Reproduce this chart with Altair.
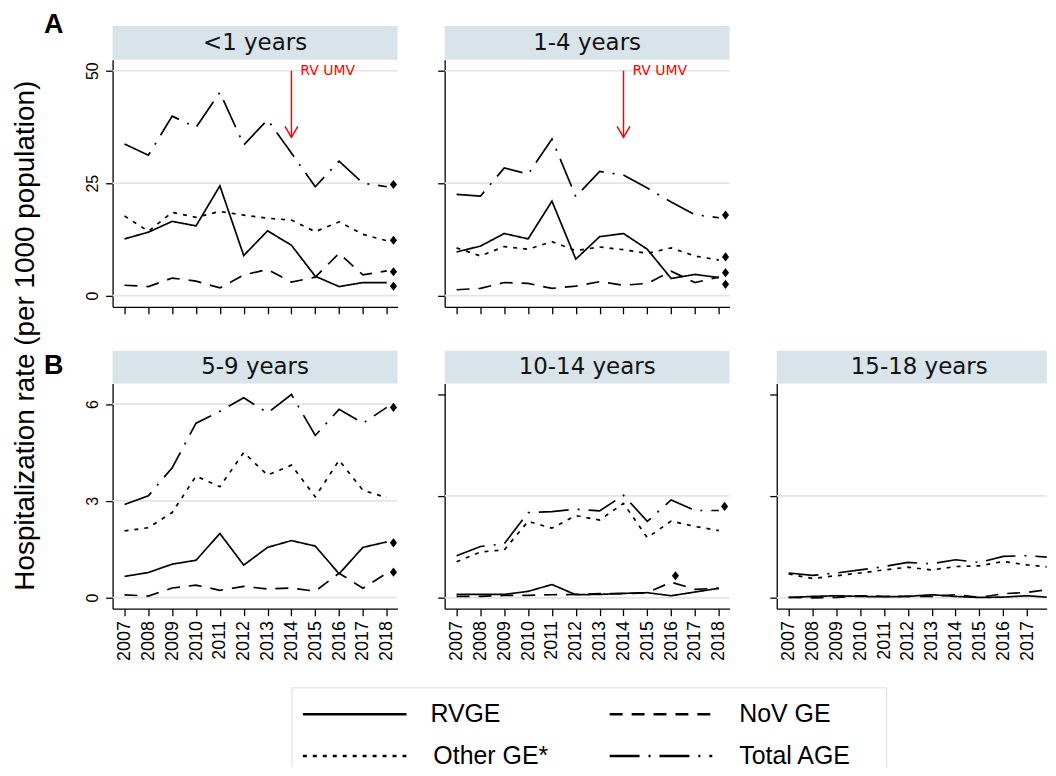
import altair as alt
import pandas as pd

# ---------------- data ----------------
years = [2007, 2008, 2009, 2010, 2011, 2012, 2013, 2014, 2015, 2016, 2017, 2018]
series_names = ["RVGE", "NoV GE", "Other GE*", "Total AGE"]
age_groups = ["<1 years", "1-4 years", "5-9 years", "10-14 years", "15-18 years"]

rvge_lt1 = [12.6, 14.1, 16.5, 15.5, 24.4, 8.9, 14.4, 11.2, 4.3, 2.0, 2.9, 2.9]
nov_lt1 = [2.3, 2.0, 3.9, 3.2, 1.7, 4.6, 5.8, 3.0, 4.1, 9.4, 4.6, 5.5]
other_lt1 = [17.7, 14.3, 18.5, 17.4, 18.7, 17.9, 17.2, 16.8, 14.2, 16.4, 13.6, 12.2]
total_lt1 = [33.7, 31.2, 39.9, 37.4, 45.2, 33.5, 39.1, 31.7, 24.2, 29.9, 25.0, 24.2]

rvge_1to4 = [9.7, 11.0, 13.8, 12.6, 21.0, 8.1, 13.1, 13.8, 10.3, 3.8, 4.7, 4.0]
nov_1to4 = [1.3, 1.6, 2.9, 2.7, 1.6, 2.1, 3.1, 2.3, 2.7, 5.4, 2.9, 4.1]
other_1to4 = [10.6, 8.8, 10.9, 10.3, 12.0, 10.0, 10.8, 10.2, 9.4, 10.6, 8.8, 7.9]
total_1to4 = [22.5, 22.1, 28.4, 27.0, 34.8, 22.0, 27.6, 26.8, 23.9, 20.8, 18.0, 17.3]

rvge_5to9 = [0.66, 0.78, 1.04, 1.16, 1.99, 1.01, 1.56, 1.77, 1.60, 0.74, 1.56, 1.73]
nov_5to9 = [0.09, 0.05, 0.30, 0.39, 0.23, 0.35, 0.27, 0.30, 0.20, 0.76, 0.29, 0.76]
other_5to9 = [2.07, 2.17, 2.64, 3.77, 3.44, 4.50, 3.80, 4.11, 3.13, 4.26, 3.33, 3.10]
total_5to9 = [2.89, 3.16, 4.03, 5.41, 5.78, 6.20, 5.73, 6.30, 5.03, 5.84, 5.41, 5.90]

rvge_10to14 = [0.10, 0.10, 0.10, 0.19, 0.39, 0.09, 0.10, 0.13, 0.15, 0.06, 0.17, 0.28]
nov_10to14 = [0.04, 0.04, 0.07, 0.07, 0.09, 0.10, 0.12, 0.12, 0.15, 0.46, 0.25, 0.28]
other_10to14 = [1.06, 1.35, 1.41, 2.25, 2.05, 2.42, 2.29, 2.78, 1.77, 2.26, 2.10, 1.98]
total_10to14 = [1.24, 1.51, 1.59, 2.51, 2.54, 2.61, 2.56, 3.02, 2.25, 2.88, 2.57, 2.57]

rvge_15to18 = [0.01, 0.04, 0.06, 0.04, 0.03, 0.04, 0.09, 0.04, 0.01, 0.02, 0.06, 0.01]
nov_15to18 = [0.01, 0.00, 0.01, 0.06, 0.04, 0.04, 0.04, 0.09, 0.01, 0.12, 0.16, 0.25]
other_15to18 = [0.70, 0.57, 0.65, 0.73, 0.82, 0.90, 0.82, 0.92, 0.94, 1.07, 0.97, 0.90]
total_15to18 = [0.73, 0.66, 0.73, 0.82, 0.92, 1.04, 1.00, 1.12, 1.04, 1.22, 1.24, 1.19]

# significance markers (diamonds)
marker_lt1_year = [2018.28, 2018.28, 2018.28, 2018.28]
marker_lt1_rate = [24.7, 12.3, 5.3, 2.1]
marker_1to4_year = [2018.28, 2018.28, 2018.28, 2018.28]
marker_1to4_rate = [17.9, 8.6, 5.1, 2.5]
marker_5to9_year = [2018.28, 2018.28, 2018.28]
marker_5to9_rate = [5.9, 1.7, 0.79]
marker_10to14_year = [2018.24, 2016.18]
marker_10to14_rate = [2.69, 0.65]
marker_15to18_year = [2018.28, 2018.28]
marker_15to18_rate = [1.25, 0.40]

# vaccination annotation
arrow_year = 2014
arrow_top = 50
arrow_tip = 35.2
arrow_label = "RV UMV"

ticks_a = [0, 25, 50]
ticks_b = [0, 3, 6]
grid_a = [0, 25, 50]
grid_b1 = [0, 3, 6]
grid_b2 = [0, 3]
years_cut = [2007, 2008, 2009, 2010, 2011, 2012, 2013, 2014, 2015, 2016, 2017]

# ---------------- styling ----------------
FONT = "Liberation Sans"
HFONT = "DejaVu Sans"
W = 286
W_LAST = 271          # last panel is cut by the page edge, as in the original
HA = 248
HB = 226
X_DOMAIN = [2006.5, 2018.45]
X_DOMAIN_LAST = [2006.5, 2006.5 + (2018.45 - 2006.5) * W_LAST / W]
DASHES = [[1, 0], [13, 9], [4, 6], [30, 9, 2, 9]]
DIAMOND = "M0,-1.1L0.85,0L0,1.1L-0.85,0Z"
ARROWHEAD = "M-1,-1.7L0,0L1,-1.7"


def make_panel(label, values, m_years, m_rates, y_domain, y_ticks, grid_vals,
               height, header_h, show_ylabels, show_xlabels,
               letter=None, letter_y=0, arrow=False, width=W, x_domain=X_DOMAIN,
               x_values=years):
    df = pd.DataFrame({
        "year": years * 4,
        "series": [s for s in series_names for _ in years],
        "rate": [v for arr in values for v in arr],
    })
    x_axis = alt.Axis(values=x_values, format="d", labels=show_xlabels, labelAngle=270,
                      labelFontSize=18, labelFont=FONT, labelColor="black",
                      labelPadding=5, labelFlush=False, labelOverlap=False,
                      tickSize=7, tickColor="black", tickWidth=1.3,
                      domainColor="black", domainWidth=1.3, grid=False, title=None)
    y_axis = alt.Axis(values=y_ticks, labels=show_ylabels, labelAngle=270,
                      labelAlign="center", labelBaseline="bottom",
                      labelFontSize=16, labelFont=FONT, labelColor="black",
                      labelPadding=5.5, labelFlush=False, labelOverlap=False,
                      tickSize=7, tickColor="black", tickWidth=1.3,
                      domainColor="black", domainWidth=1.3, grid=False, title=None)
    xs = alt.Scale(domain=x_domain, nice=False, zero=False)
    ys = alt.Scale(domain=y_domain, nice=False, zero=False)
    X = alt.X("year:Q", scale=xs, axis=x_axis)
    Y = alt.Y("rate:Q", scale=ys, axis=y_axis)

    grid = alt.Chart(pd.DataFrame({"rate": grid_vals})).mark_rule(
        color="#e4e4e4", strokeWidth=1.7).encode(y=Y)

    lines = alt.Chart(df).mark_line(strokeWidth=1.7, color="black", strokeCap="butt",
                                    clip=True).encode(
        x=X, y=Y,
        strokeDash=alt.StrokeDash("series:N",
                                  scale=alt.Scale(domain=series_names, range=DASHES),
                                  legend=None),
    )
    markers = alt.Chart(pd.DataFrame({"year": m_years, "rate": m_rates})).mark_point(
        shape=DIAMOND, filled=True, color="black", size=70, opacity=1, clip=True).encode(x=X, y=Y)

    hdf = pd.DataFrame({"label": [label]})
    header_rect = alt.Chart(hdf).mark_rect(color="#d8e4ea").encode(
        x=alt.value(0), x2=alt.value(width), y=alt.value(-header_h), y2=alt.value(0))
    header_text = alt.Chart(hdf).mark_text(
        font=HFONT, fontSize=23, color="#111111", align="center", baseline="middle").encode(
        x=alt.value(W / 2), y=alt.value(-header_h / 2), text="label:N")

    layers = [grid, lines, markers, header_rect, header_text]

    if arrow:
        adf = pd.DataFrame({"year": [arrow_year], "rate": [arrow_top],
                            "rate_end": [arrow_tip], "label": [arrow_label]})
        shaft = alt.Chart(adf).mark_rule(color="red", strokeWidth=1.5).encode(
            x=X, y=Y, y2="rate_end:Q")
        head = alt.Chart(adf).mark_point(shape=ARROWHEAD, filled=False, color="red",
                                         strokeWidth=1.5, size=169, opacity=1).encode(
            x=X, y=alt.Y("rate_end:Q", scale=ys, axis=y_axis))
        txt = alt.Chart(adf).mark_text(color="red", font=HFONT, fontSize=14, align="left",
                                       baseline="middle", dx=9).encode(x=X, y=Y, text="label:N")
        layers += [shaft, head, txt]

    if letter:
        ldf = pd.DataFrame({"t": [letter]})
        layers.append(alt.Chart(ldf).mark_text(
            font=FONT, fontSize=27, fontWeight="bold", color="black",
            align="center", baseline="middle").encode(
            x=alt.value(-59), y=alt.value(letter_y), text="t:N"))

    return alt.layer(*layers).properties(width=width, height=height)


p_lt1 = make_panel(age_groups[0], [rvge_lt1, nov_lt1, other_lt1, total_lt1],
                   marker_lt1_year, marker_lt1_rate, [-2.5, 52.44], ticks_a, grid_a,
                   HA, 34, True, False, letter="A", letter_y=-35, arrow=True)
p_1to4 = make_panel(age_groups[1], [rvge_1to4, nov_1to4, other_1to4, total_1to4],
                    marker_1to4_year, marker_1to4_rate, [-2.5, 52.44], ticks_a, grid_a,
                    HA, 34, False, False, arrow=True)
p_5to9 = make_panel(age_groups[2], [rvge_5to9, nov_5to9, other_5to9, total_5to9],
                    marker_5to9_year, marker_5to9_rate, [-0.34, 6.64], ticks_b, grid_b1,
                    HB, 33, True, True, letter="B", letter_y=-18)
p_10to14 = make_panel(age_groups[3], [rvge_10to14, nov_10to14, other_10to14, total_10to14],
                      marker_10to14_year, marker_10to14_rate, [-0.32, 6.31], ticks_b, grid_b2,
                      HB, 33, False, True)
p_15to18 = make_panel(age_groups[4], [rvge_15to18, nov_15to18, other_15to18, total_15to18],
                      marker_15to18_year, marker_15to18_rate, [-0.32, 6.31], ticks_b, grid_b2,
                      HB, 33, False, True, width=W_LAST, x_domain=X_DOMAIN_LAST,
                      x_values=years_cut)

row_a = alt.hconcat(p_lt1, p_1to4, spacing=38.35)
row_b = alt.hconcat(p_5to9, p_10to14, p_15to18, spacing=38.35)

panels = alt.vconcat(row_a, row_b, spacing=36).properties(
    title=alt.TitleParams(text="Hospitalization rate (per 1000 population)",
                          orient="left", anchor="middle", font=FONT, fontSize=28,
                          fontWeight="normal", color="black", offset=4))

# ---------------- legend (box open at the bottom, cut by the page edge) ----------------
LEG_H = 80
BOX_L, BOX_R = 180, 777
legend_pos = [(191, 295, 27, 319), (499, 602, 27, 629), (191, 295, 69, 322), (499, 602, 69, 629)]
kdf = pd.DataFrame({"k": [0]})
leg_layers = [
    alt.Chart(kdf).mark_rule(color="#dcdcdc", strokeWidth=1).encode(
        x=alt.value(BOX_L), x2=alt.value(BOX_R), y=alt.value(0.5)),
    alt.Chart(kdf).mark_rule(color="#dcdcdc", strokeWidth=1).encode(
        x=alt.value(BOX_L), y=alt.value(0.5), y2=alt.value(LEG_H)),
    alt.Chart(kdf).mark_rule(color="#dcdcdc", strokeWidth=1).encode(
        x=alt.value(BOX_R), y=alt.value(0.5), y2=alt.value(LEG_H)),
]
for name, dash, (x1, x2, yy, tx) in zip(series_names, DASHES, legend_pos):
    sdf = pd.DataFrame({"series": [name]})
    leg_layers.append(alt.Chart(sdf).mark_rule(color="black", strokeWidth=2.5, strokeCap="butt").encode(
        x=alt.value(x1), x2=alt.value(x2), y=alt.value(yy), strokeDash=alt.value(dash)))
    leg_layers.append(alt.Chart(sdf).mark_text(
        font=FONT, fontSize=25, color="black", align="left", baseline="middle", clip=True).encode(
        x=alt.value(tx), y=alt.value(yy), text="series:N"))
legend = alt.layer(*leg_layers).properties(width=800, height=LEG_H)

chart = alt.vconcat(panels, legend, spacing=26).properties(
    padding={"left": 4, "top": 1.5, "right": 0, "bottom": 0},
    background="white",
).configure_view(strokeWidth=0)

chart.save("out.html", embed_options={"renderer": "svg", "actions": False})
